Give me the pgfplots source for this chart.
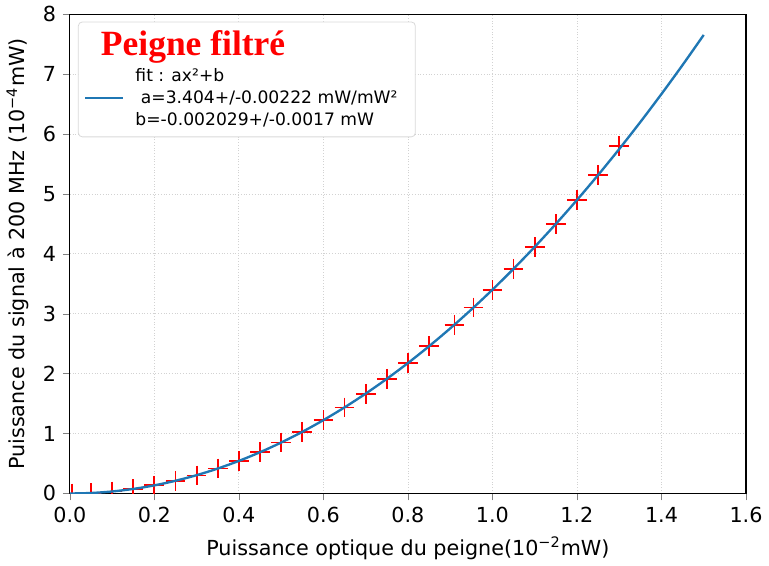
\documentclass[border=0pt]{standalone}
\usepackage{pgfplots}
\pgfplotsset{compat=1.18}
\usepackage{fontspec}
\setmainfont{DejaVu Sans}
\newfontfamily\titlefont{Liberation Serif}
\definecolor{mplblue}{HTML}{1F77B4}
\begin{document}
\begin{tikzpicture}
\begin{axis}[
  scale only axis,
  width=343pt, height=243pt,
  xmin=0, xmax=1.6, ymin=0, ymax=8,
  xtick={0,0.2,...,1.6},
  ytick={0,1,...,8},
  xticklabel style={/pgf/number format/.cd,fixed,fixed zerofill,precision=1},
  /pgf/number format/assume math mode=true,
  tick label style={font=\fontsize{10.5}{12}\selectfont},
  label style={font=\fontsize{10.5}{12}\selectfont},
  tick align=outside, xtick pos=left, ytick pos=left,
  major tick length=3.5pt,
  grid=major,
  grid style={densely dotted, gray!35, line width=0.4pt},
  axis line style={line width=0.6pt},
  xlabel={Puissance optique du peigne(10\textsuperscript{−2}mW)},
  ylabel={Puissance du signal à 200 MHz (10\textsuperscript{−4}mW)},
  clip marker paths=true,
  legend cell align=left,
  legend style={font=\fontsize{8.7}{11}\selectfont, align=left,
    draw=gray!30, rounded corners=2pt,
    at={(axis description cs:0.012,0.985)}, anchor=north west,
    inner xsep=3pt, inner ysep=2.5pt, row sep=1pt,
    nodes={inner xsep=6pt}},
  legend image post style={xscale=1.1},
]
\addlegendimage{empty legend}
\addlegendentry{\hspace*{-17.5pt}\titlefont\bfseries\fontsize{18}{20}\selectfont\color{red}Peigne filtré}
\addplot[only marks, mark=+, mark size=5pt, red, mark options={line width=0.9pt}, forget plot]
coordinates {
(0.005,0.0)(0.05,0.007)(0.1,0.032)(0.15,0.075)(0.2,0.134)(0.25,0.21)
(0.3,0.30)(0.35,0.415)(0.4,0.543)(0.45,0.687)(0.5,0.849)(0.55,1.028)
(0.6,1.223)(0.65,1.436)(0.7,1.666)(0.75,1.913)(0.8,2.177)(0.85,2.457)
(0.91,2.817)(0.955,3.103)(1.0,3.402)(1.05,3.751)(1.1,4.117)(1.15,4.500)
(1.2,4.900)(1.25,5.317)(1.3,5.80)
};
\addplot[mplblue, line width=1.2pt, smooth]
coordinates {
(0,-0.002)(0.05,0.0065)(0.1,0.032)(0.15,0.0746)(0.2,0.134)(0.25,0.2108)
(0.3,0.3044)(0.35,0.415)(0.4,0.5426)(0.45,0.6873)(0.5,0.849)(0.55,1.0277)
(0.6,1.2234)(0.65,1.4362)(0.7,1.666)(0.75,1.9128)(0.8,2.1766)(0.85,2.4574)
(0.9,2.7552)(0.95,3.0701)(1.0,3.402)(1.05,3.7509)(1.1,4.1168)(1.15,4.4998)
(1.2,4.8998)(1.25,5.3168)(1.3,5.7508)(1.35,6.2018)(1.4,6.6699)(1.45,7.1549)
(1.5,7.657)
};
\addlegendentry{fit : ax²+b\\ \ a=3.404+/-0.00222 mW/mW²\\b=-0.002029+/-0.0017 mW}
\end{axis}
\end{tikzpicture}
\end{document}
